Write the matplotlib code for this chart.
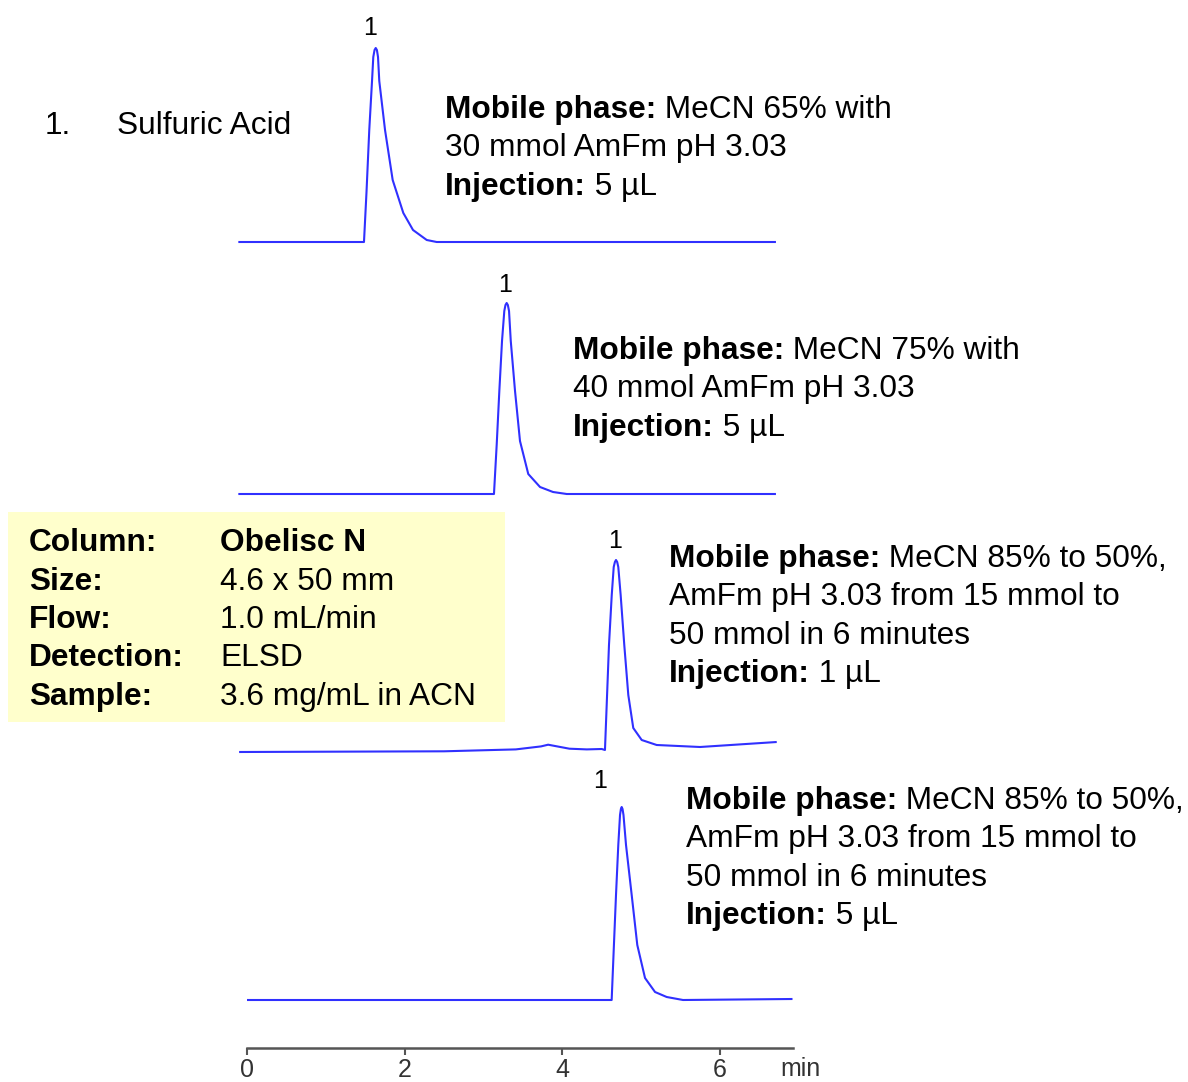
import matplotlib
matplotlib.use("Agg")
import matplotlib.pyplot as plt
import numpy as np
from matplotlib.patches import Rectangle

plt.rcParams["font.family"] = ["Liberation Sans", "DejaVu Sans"]

# chromatogram data, time in min, signal in detector units (drawn 1 unit = 1 px)
trace1_time = [-0.11, 1.484, 1.516, 1.551, 1.586, 1.602, 1.618, 1.633, 1.648, 1.662, 1.678,
               1.751, 1.848, 1.983, 2.106, 2.280, 2.406, 6.71]
trace1_signal = [0, 0, 50, 112, 161, 185, 192, 194, 192, 185, 161,
                 112, 62, 29, 12, 2, 0, 0]

trace2_time = [-0.11, 3.133, 3.168, 3.201, 3.235, 3.264, 3.279, 3.294, 3.309, 3.324, 3.346,
               3.400, 3.463, 3.568, 3.717, 3.882, 4.056, 6.71]
trace2_signal = [0, 0, 50, 103, 153, 183, 189, 191, 189, 183, 153,
                 103, 53, 20, 7, 2, 0, 0]

trace3_time = [-0.10, 2.50, 3.41, 3.73, 3.82, 4.09, 4.31, 4.50, 4.541, 4.592, 4.627, 4.652,
               4.667, 4.681, 4.696, 4.710, 4.740, 4.786, 4.837, 4.900, 5.007, 5.197, 5.747, 6.72]
trace3_signal = [0, 0.7, 2.6, 5.6, 7.3, 3.3, 2.6, 3, 2, 107, 157, 185,
                 190, 192, 190, 185, 157, 107, 57, 24, 12, 7, 5, 10]

trace4_time = [0, 4.626, 4.652, 4.681, 4.710, 4.732, 4.743, 4.753, 4.764, 4.776, 4.808,
               4.880, 4.951, 5.049, 5.176, 5.324, 5.531, 6.92]
trace4_signal = [0, 0, 50, 105, 155, 185, 191, 193, 191, 185, 155,
                 105, 55, 22, 8, 3, 0, 1]

peak_labels = ["1", "1", "1", "1"]

conditions = [
    [("Mobile phase:", " MeCN 65% with"), ("", "30 mmol AmFm pH 3.03"), ("Injection:", " 5 \u00b5L")],
    [("Mobile phase:", " MeCN 75% with"), ("", "40 mmol AmFm pH 3.03"), ("Injection:", " 5 \u00b5L")],
    [("Mobile phase:", " MeCN 85% to 50%,"), ("", "AmFm pH 3.03 from 15 mmol to"),
     ("", "50 mmol in 6 minutes"), ("Injection:", " 1 \u00b5L")],
    [("Mobile phase:", " MeCN 85% to 50%,"), ("", "AmFm pH 3.03 from 15 mmol to"),
     ("", "50 mmol in 6 minutes"), ("Injection:", " 5 \u00b5L")],
]

method_keys = ["Column:", "Size:", "Flow:", "Detection:", "Sample:"]
method_values = ["Obelisc N", "4.6 x 50 mm", "1.0 mL/min", "ELSD", "3.6 mg/mL in ACN"]

x_ticks = [0, 2, 4, 6]

# layout (pixels)
W, H = 1188, 1082
PX_PER_MIN = 78.83
X0 = 247
baselines = [242, 494, 752, 1000]
label_pos = [(370, 28), (505, 285), (615, 541), (600, 781)]
text_pos = [(445, 110), (573, 351), (669, 559), (686, 801)]
LINE = 38.3
FS = 22.8
blue = "#3030ff"

fig = plt.figure(figsize=(W / 100, H / 100), dpi=100)
ax = fig.add_axes([0, 0, 1, 1])
ax.set_xlim(-X0 / PX_PER_MIN, (W - X0) / PX_PER_MIN)
ax.set_ylim(0, H)


def fx(px):
    return px / W


def fy(py):
    return 1 - py / H


# yellow method box
fig.patches.append(Rectangle((fx(8), fy(722)), fx(505) - fx(8), fy(512) - fy(722),
                             transform=fig.transFigure, facecolor="#ffffcc",
                             edgecolor="none", zorder=0))
for i, (k, v) in enumerate(zip(method_keys, method_values)):
    y = 543 + i * 38.5
    fig.text(fx(29), fy(y), k, fontsize=FS, fontweight="bold", va="center")
    fig.text(fx(220), fy(y), v, fontsize=FS, va="center",
             fontweight="bold" if i == 0 else "normal")

traces = [(trace1_time, trace1_signal), (trace2_time, trace2_signal),
          (trace3_time, trace3_signal), (trace4_time, trace4_signal)]
for (t, s), base in zip(traces, baselines):
    ax.plot(t, np.array(s) + (H - base), color=blue, lw=1.5,
            solid_joinstyle="round", solid_capstyle="butt")

for lab, (px, py) in zip(peak_labels, label_pos):
    fig.text(fx(px), fy(py), lab, fontsize=18, ha="center", va="center")

# condition text blocks
fig.canvas.draw()
for block, (px, py) in zip(conditions, text_pos):
    for j, (bold, normal) in enumerate(block):
        y = fy(py + j * LINE)
        if bold:
            t = fig.text(fx(px), y, bold, fontsize=FS, fontweight="bold", va="center")
            bb = t.get_window_extent(renderer=fig.canvas.get_renderer())
            fig.text(bb.x1 / W, y, normal, fontsize=FS, va="center")
        else:
            fig.text(fx(px), y, normal, fontsize=FS, va="center")

fig.text(fx(45), fy(126), "1.", fontsize=FS, va="center")
fig.text(fx(117), fy(126), "Sulfuric Acid", fontsize=FS, va="center")

# time axis
for side in ["top", "left", "right"]:
    ax.spines[side].set_visible(False)
ax.spines["bottom"].set_position(("data", H - 1048))
ax.spines["bottom"].set_bounds(0, 6.92)
ax.spines["bottom"].set_color("#555555")
ax.spines["bottom"].set_linewidth(1.8)
ax.set_xticks(x_ticks)
ax.set_xticklabels([str(v) for v in x_ticks])
ax.tick_params(axis="x", direction="out", length=5, width=1.5, color="#555555",
               labelsize=18, pad=2, labelcolor="#333333")
ax.set_yticks([])
fig.text(fx(780), fy(1069), "min", fontsize=18, va="center", color="#333333")

fig.savefig("out.png", dpi=100)
